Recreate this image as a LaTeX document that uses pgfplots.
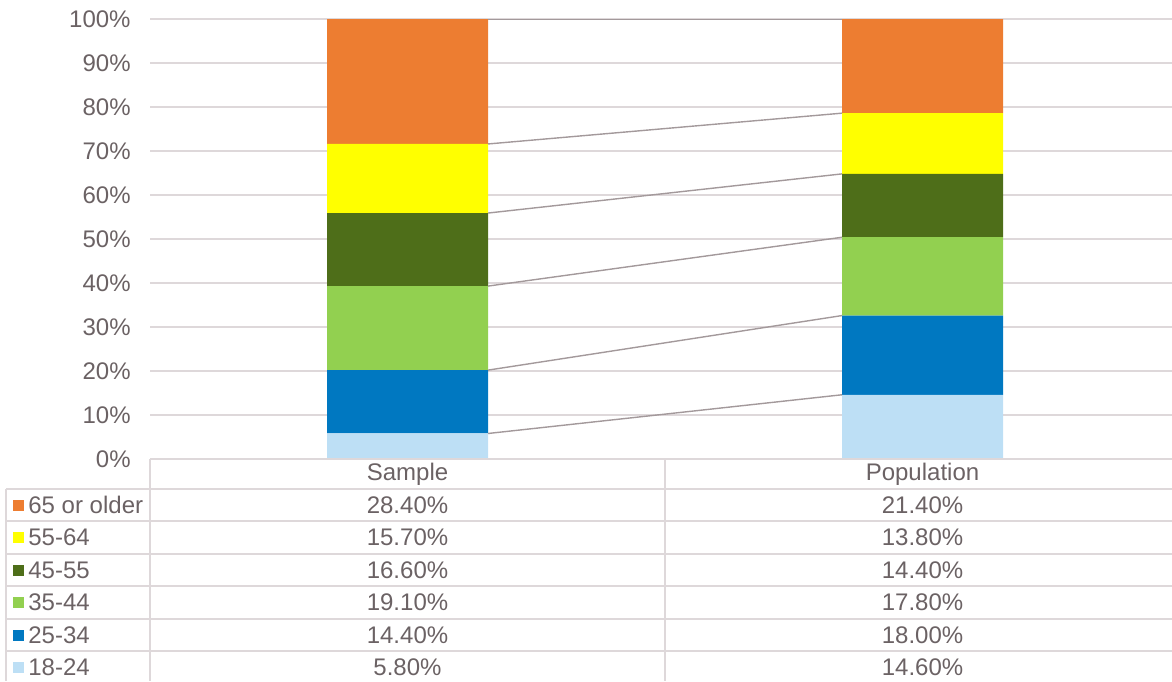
\documentclass[border=0pt]{standalone}
\usepackage{pgfplots}
\pgfplotsset{compat=1.18}
\usepackage{fontspec}
\setmainfont{Liberation Sans}

\definecolor{cA}{HTML}{BDDFF5}  % 18-24
\definecolor{cB}{HTML}{0078C1}  % 25-34
\definecolor{cC}{HTML}{92D050}  % 35-44
\definecolor{cD}{HTML}{4E6E19}  % 45-55
\definecolor{cE}{HTML}{FFFF00}  % 55-64
\definecolor{cF}{HTML}{ED7D31}  % 65 or older
\definecolor{txt}{RGB}{107,98,100}
\definecolor{gridc}{RGB}{222,216,218}
\definecolor{serline}{RGB}{163,153,155}

\newcommand{\tf}{\fontsize{12}{14.4}\selectfont\color{txt}}

\begin{document}
\begin{tikzpicture}
\useasboundingbox (0,0) rectangle (586pt,-340.5pt);

% stacked columns
\begin{axis}[
  at={(75pt,-229.5pt)}, anchor=south west,
  scale only axis, width=515pt, height=220pt,
  xmin=0, xmax=2, ymin=0, ymax=100,
  ybar stacked, bar width=80.5pt,
  xtick=\empty,
  ytick={0,10,...,100},
  yticklabel={\pgfmathprintnumber{\tick}\%},
  /pgf/number format/assume math mode=true,
  yticklabel style={font=\tf, inner sep=0pt, xshift=-9.5pt},
  major tick length=0pt,
  ymajorgrids, grid style={draw=gridc, line width=0.8pt},
  axis line style={draw=none},
  clip=false,
]
\addplot[fill=cA, draw=none] coordinates {(0.5,5.8)  (1.5,14.6)};
\addplot[fill=cB, draw=none] coordinates {(0.5,14.4) (1.5,18.0)};
\addplot[fill=cC, draw=none] coordinates {(0.5,19.1) (1.5,17.8)};
\addplot[fill=cD, draw=none] coordinates {(0.5,16.6) (1.5,14.4)};
\addplot[fill=cE, draw=none] coordinates {(0.5,15.7) (1.5,13.8)};
\addplot[fill=cF, draw=none] coordinates {(0.5,28.4) (1.5,21.4)};
\end{axis}

% series lines joining the segment tops
\begin{axis}[
  at={(75pt,-229.5pt)}, anchor=south west,
  scale only axis, width=515pt, height=220pt,
  xmin=0, xmax=2, ymin=0, ymax=100,
  hide axis,
]
\addplot[serline, line width=0.7pt] coordinates {(0.6563,5.8)  (1.3437,14.6)};
\addplot[serline, line width=0.7pt] coordinates {(0.6563,20.2) (1.3437,32.6)};
\addplot[serline, line width=0.7pt] coordinates {(0.6563,39.3) (1.3437,50.4)};
\addplot[serline, line width=0.7pt] coordinates {(0.6563,55.9) (1.3437,64.8)};
\addplot[serline, line width=0.7pt] coordinates {(0.6563,71.6) (1.3437,78.6)};
\addplot[serline, line width=0.7pt] coordinates {(0.6563,100)  (1.3437,100)};
\end{axis}

% data table
\begin{scope}[x=0.5pt, y=-0.5pt]
  \draw[gridc, line width=0.8pt] (150,459) -- (1172,459);
  \foreach \yy in {489,521,554,586,619,651}
    \draw[gridc, line width=0.8pt] (6,\yy) -- (1172,\yy);
  \draw[gridc, line width=0.8pt] (6,489) -- (6,681);
  \draw[gridc, line width=0.8pt] (150,459) -- (150,681);
  \draw[gridc, line width=0.8pt] (665,459) -- (665,681);

  \node[font=\tf] at (407.5,474) {Sample};
  \node[font=\tf] at (922.5,474) {Population};

  \foreach \yy/\c/\lab/\s/\p in {
      505/cF/65 or older/28.40/21.40,
      537.5/cE/55-64/15.70/13.80,
      570/cD/45-55/16.60/14.40,
      602.5/cC/35-44/19.10/17.80,
      635/cB/25-34/14.40/18.00,
      667/cA/18-24/5.80/14.60} {
    \fill[\c] (13,\yy-5.5) rectangle (24,\yy+5.5);
    \node[font=\tf, anchor=west, inner sep=0pt] at (28,\yy) {\lab};
    \node[font=\tf] at (407.5,\yy) {\s\%};
    \node[font=\tf] at (922.5,\yy) {\p\%};
  }
\end{scope}
\end{tikzpicture}
\end{document}
